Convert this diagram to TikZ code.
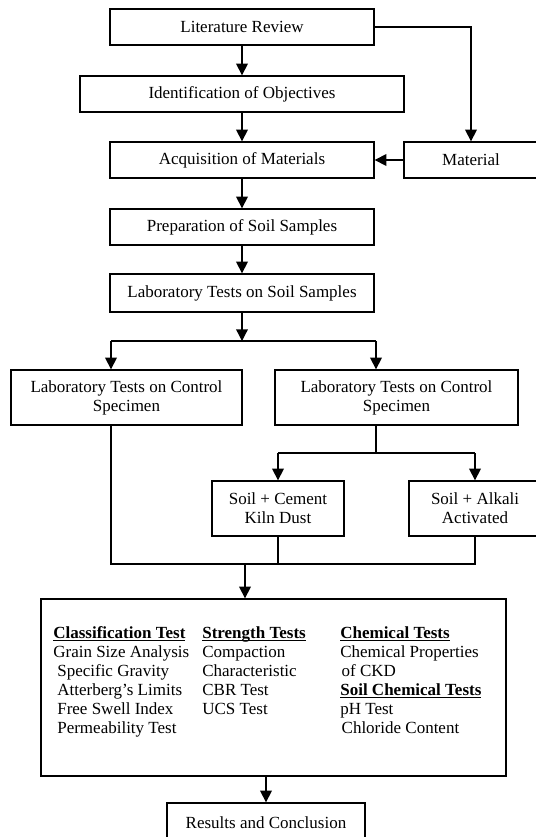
\documentclass[tikz,border=0pt]{standalone}
\usepackage{fontspec}
\setmainfont{Liberation Serif}
\usepackage{tikz}
\usetikzlibrary{arrows.meta}

\tikzset{
  box/.style={draw,line width=0.8pt,inner sep=0pt,align=center,
    font=\fontsize{10.2}{11.4}\selectfont},
  arr/.style={-{Triangle[length=7pt,width=7pt]},line width=0.8pt},
  ln/.style={line width=0.8pt},
  testcol/.style={inner sep=0pt,anchor=north west,align=left,
    font=\fontsize{10.2}{11.4}\selectfont}
}
% bold heading, underlined just below the baseline
\newcommand{\hd}[1]{{\setbox0\hbox{\textbf{#1}}\dp0=0pt\underline{\box0}}}

\begin{document}
\begin{tikzpicture}[x=0.6pt,y=-0.6pt]
\useasboundingbox (0,0) rectangle (536,837);
\clip (0,0) rectangle (536,837);

% main column
\node[box,minimum width=158.4pt,minimum height=21.6pt] (lit) at (242,27) {Literature Review};
\node[box,minimum width=194.4pt,minimum height=21.6pt] (obj) at (242,94) {Identification of Objectives};
\node[box,minimum width=158.4pt,minimum height=21.6pt] (acq) at (242,160) {Acquisition of Materials};
\node[box,minimum width=80.4pt,minimum height=21.6pt] (mat) at (471,160) {Material};
\node[box,minimum width=158.4pt,minimum height=21.6pt] (prep) at (242,227) {Preparation of Soil Samples};
\node[box,minimum width=158.4pt,minimum height=22.8pt] (lab) at (242,293) {Laboratory Tests on Soil Samples};

% specimens
\node[box,minimum width=138.6pt,minimum height=33pt] (ctrlA) at (126.5,397.5) {Laboratory Tests on Control\\Specimen};
\node[box,minimum width=145.8pt,minimum height=33pt] (ctrlB) at (396.5,397.5) {Laboratory Tests on Control\\Specimen};
\node[box,minimum width=79.2pt,minimum height=33pt] (cem) at (278,508.5) {Soil + Cement\\Kiln Dust};
\node[box,minimum width=79.2pt,minimum height=33pt] (alk) at (475,508.5) {Soil + Alkali\\Activated};

% tests and results
\node[box,minimum width=279pt,minimum height=106.2pt] (big) at (273.5,687.5) {};
\node[testcol] (cls) at (53,626) {\hd{Classification Test}\\Grain Size Analysis\\
  \hspace*{2.4pt}Specific Gravity\\\hspace*{2.4pt}Atterberg's Limits\\
  \hspace*{2.4pt}Free Swell Index\\\hspace*{2.4pt}Permeability Test};
\node[testcol] (str) at (202,626) {\hd{Strength Tests}\\Compaction\\Characteristic\\CBR Test\\UCS Test};
\node[testcol] (chm) at (340,626) {\hd{Chemical Tests}\\Chemical Properties\\\hspace*{0.8pt}of CKD\\
  \hd{Soil Chemical Tests}\\pH Test\\\hspace*{0.8pt}Chloride Content};
\node[box,minimum width=118.8pt,minimum height=24pt] (res) at (266,823) {Results and Conclusion};

% junctions
\coordinate (ja) at (111,341);
\coordinate (jb) at (376,341);
\coordinate (ka) at (278,453);
\coordinate (kb) at (475,453);
\coordinate (m1) at (111,564);
\coordinate (m2) at (475,564);
\coordinate (mc) at (245,564);

\draw[arr] (lit.south) -- (lit.south |- obj.north);
\draw[arr] (obj.south) -- (obj.south |- acq.north);
\draw[arr] (acq.south) -- (prep.north);
\draw[arr] (prep.south) -- (lab.north);
\draw[arr] (lit.east) -| (mat.north);
\draw[arr] (mat.west) -- (acq.east);

\draw[arr] (lab.south) -- (lab.south |- ja);
\draw[ln] (ja) -- (jb);
\draw[arr] (ja) -- (ja |- ctrlA.north);
\draw[arr] (jb) -- (jb |- ctrlB.north);

\draw[ln] (ctrlB.south -| jb) -- (jb |- ka);
\draw[ln] (ka) -- (kb);
\draw[arr] (ka) -- (cem.north);
\draw[arr] (kb) -- (alk.north);

\draw[ln] (ctrlA.south -| m1) -- (m1) -- (m2) -- (alk.south);
\draw[ln] (cem.south) -- (cem.south |- m1);
\draw[arr] (mc) -- (mc |- big.north);
\draw[arr] (big.south -| res.north) -- (res.north);
\end{tikzpicture}
\end{document}
